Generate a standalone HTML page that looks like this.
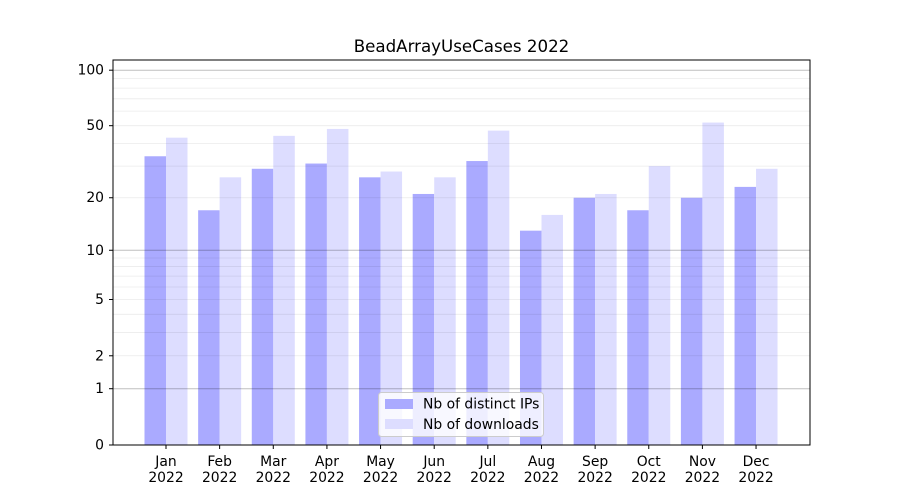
<!DOCTYPE html>
<html><head><meta charset="utf-8"><style>body{margin:0;background:#fff}svg{display:block;font-family:"DejaVu Sans","Liberation Sans",sans-serif}</style></head>
<body>
<svg width="900" height="500" viewBox="0 0 900 500" xmlns="http://www.w3.org/2000/svg">
<rect width="900" height="500" fill="#fff"/>
<g id="bars"></g>
<g id="grid"></g>
<rect x="113" y="60" width="697" height="385" fill="none" stroke="#000" stroke-width="1"/>
<g id="ticks" font-size="13.9" fill="#000"></g>
<text x="461.5" y="52" text-anchor="middle" font-size="16.67">BeadArrayUseCases 2022</text>
<g>
<rect x="378.5" y="392.5" width="165" height="44" rx="3" fill="#fff" fill-opacity="0.8" stroke="#ccc"/>
<rect x="385" y="399" width="28" height="10" fill="#aaaaff"/>
<text x="423" y="408.5" font-size="13.9">Nb of distinct IPs</text>
<rect x="385" y="419" width="28" height="10" fill="#ddddff"/>
<text x="423" y="429" font-size="13.9">Nb of downloads</text>
</g>
<script>
var ns="http://www.w3.org/2000/svg";
function Y(v){return 445-187*Math.log10(1+v);}
function el(p,t,a,txt){var e=document.createElementNS(ns,t);for(var k in a)e.setAttribute(k,a[k]);if(txt!==undefined)e.textContent=txt;document.getElementById(p).appendChild(e);return e;}
var minors=[2,3,4,5,6,7,8,9,20,30,40,50,60,70,80,90];
minors.forEach(function(v){var y=Y(v);el("grid","line",{x1:113,x2:810,y1:y,y2:y,stroke:"rgba(0,0,0,0.08)","stroke-width":0.8});});
[1,10,100].forEach(function(v){var y=Y(v);el("grid","line",{x1:113,x2:810,y1:y,y2:y,stroke:"rgba(0,0,0,0.25)","stroke-width":1});});
var a=[34,17,29,31,26,21,32,13,20,17,20,23],b=[43,26,44,48,28,26,47,16,21,30,52,29];
var m=["Jan","Feb","Mar","Apr","May","Jun","Jul","Aug","Sep","Oct","Nov","Dec"];
for(var i=0;i<12;i++){var c=166+i*53.64;
el("bars","rect",{x:c-21.5,y:Y(a[i]),width:21.5,height:445-Y(a[i]),fill:"#aaaaff"});
el("bars","rect",{x:c,y:Y(b[i]),width:21.5,height:445-Y(b[i]),fill:"#ddddff"});
el("ticks","line",{x1:c,x2:c,y1:445,y2:449,stroke:"#000"});
el("ticks","text",{x:c,y:466,"text-anchor":"middle"},m[i]);
el("ticks","text",{x:c,y:482,"text-anchor":"middle"},"2022");}
[0,1,2,5,10,20,50,100].forEach(function(v){var y=Y(v);
el("ticks","line",{x1:109,x2:113,y1:y,y2:y,stroke:"#000"});
el("ticks","text",{x:104,y:y+4.5,"text-anchor":"end"},String(v));});
</script>
</svg>
</body></html>
